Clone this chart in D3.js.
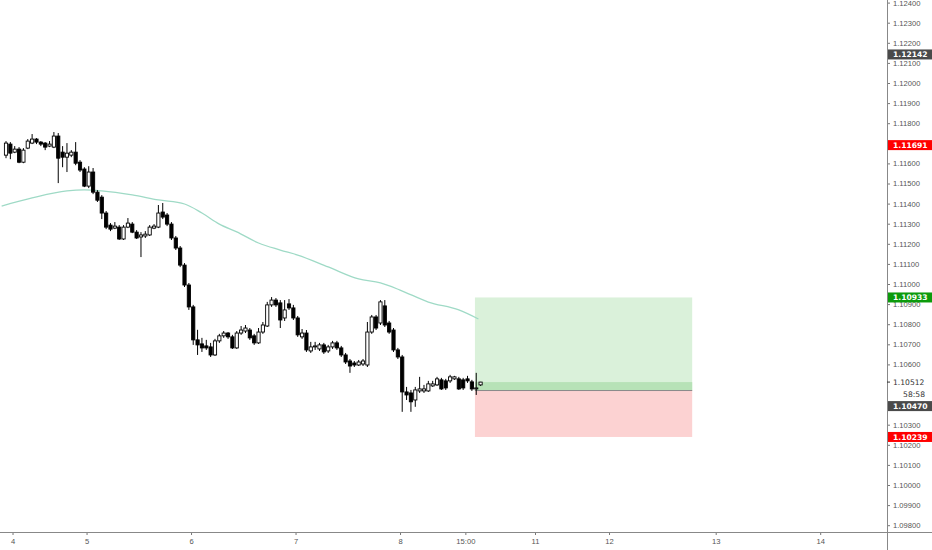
<!DOCTYPE html>
<html>
<head>
<meta charset="utf-8">
<script src="https://cdn.jsdelivr.net/npm/d3@7"></script>
<style>
  body { margin: 0; background: #fff; }
  svg { display: block; font-family: "DejaVu Sans", sans-serif; }
</style>
</head>
<body>
<div id="chart"></div>
<script>
// hourly EURUSD candles
const opens = [1.11641,1.11696,1.11656,1.11671,1.11606,1.11676,1.11701,1.11721,1.11706,1.11701,
  1.11686,1.11681,1.11736,1.11656,1.11631,1.11641,1.11656,1.11606,1.11572,1.11487,
  1.11557,1.11457,1.11432,1.11353,1.11293,1.11278,1.11283,1.11224,1.11283,1.11298,
  1.11258,1.11234,1.11239,1.11244,1.11278,1.11283,1.11358,1.11343,1.11298,1.11229,
  1.11179,1.11094,1.10995,1.10886,1.10722,1.10702,1.10692,1.10687,1.10647,1.10717,
  1.10742,1.10756,1.10737,1.10682,1.10756,1.10766,1.10771,1.10742,1.10707,1.10761,
  1.10791,1.10896,1.10920,1.10906,1.10831,1.10901,1.10881,1.10831,1.10737,1.10756,
  1.10667,1.10687,1.10677,1.10697,1.10667,1.10687,1.10707,1.10682,1.10647,1.10617,
  1.10607,1.10597,1.10602,1.10597,1.10761,1.10836,1.10806,1.10891,1.10806,1.10771,
  1.10672,1.10637,1.10463,1.10458,1.10423,1.10468,1.10468,1.10468,1.10493,1.10498,
  1.10523,1.10518,1.10518,1.10528,1.10528,1.10523,1.10528,1.10513,1.10478,1.10498];
const highs = [1.11711,1.11706,1.11686,1.11681,1.11676,1.11721,1.11746,1.11726,1.11711,1.11706,
  1.11711,1.11756,1.11751,1.11686,1.11701,1.11666,1.11706,1.11616,1.11581,1.11586,
  1.11577,1.11467,1.11442,1.11363,1.11303,1.11308,1.11293,1.11293,1.11328,1.11308,
  1.11268,1.11258,1.11263,1.11293,1.11298,1.11393,1.11403,1.11353,1.11308,1.11239,
  1.11189,1.11104,1.11005,1.10896,1.10772,1.10732,1.10722,1.10707,1.10727,1.10752,
  1.10766,1.10761,1.10747,1.10766,1.10791,1.10796,1.10781,1.10752,1.10781,1.10811,
  1.10911,1.10935,1.10930,1.10920,1.10920,1.10925,1.10896,1.10841,1.10776,1.10771,
  1.10712,1.10712,1.10707,1.10707,1.10697,1.10717,1.10717,1.10692,1.10657,1.10627,
  1.10617,1.10622,1.10627,1.10811,1.10846,1.10846,1.10920,1.10920,1.10816,1.10781,
  1.10682,1.10647,1.10488,1.10473,1.10488,1.10538,1.10498,1.10518,1.10518,1.10538,
  1.10533,1.10528,1.10548,1.10543,1.10538,1.10533,1.10543,1.10523,1.10558,1.10513];
const lows = [1.11626,1.11621,1.11651,1.11601,1.11601,1.11671,1.11696,1.11696,1.11686,1.11666,
  1.11681,1.11676,1.11502,1.11581,1.11557,1.11631,1.11591,1.11557,1.11482,1.11477,
  1.11447,1.11408,1.11323,1.11273,1.11263,1.11273,1.11219,1.11219,1.11278,1.11253,
  1.11224,1.11134,1.11229,1.11239,1.11273,1.11278,1.11323,1.11288,1.11219,1.11169,
  1.11084,1.10985,1.10871,1.10697,1.10647,1.10662,1.10672,1.10637,1.10642,1.10707,
  1.10732,1.10727,1.10677,1.10677,1.10747,1.10756,1.10722,1.10697,1.10702,1.10752,
  1.10786,1.10886,1.10886,1.10781,1.10816,1.10871,1.10821,1.10737,1.10727,1.10662,
  1.10657,1.10672,1.10667,1.10652,1.10657,1.10677,1.10672,1.10637,1.10602,1.10558,
  1.10587,1.10592,1.10592,1.10587,1.10752,1.10771,1.10796,1.10786,1.10752,1.10662,
  1.10627,1.10364,1.10423,1.10364,1.10389,1.10458,1.10458,1.10463,1.10488,1.10493,
  1.10473,1.10473,1.10508,1.10523,1.10473,1.10473,1.10508,1.10468,1.10448,1.10493];
const closes = [1.11701,1.11651,1.11671,1.11606,1.11666,1.11711,1.11721,1.11706,1.11696,1.11681,
  1.11696,1.11736,1.11626,1.11631,1.11651,1.11656,1.11601,1.11567,1.11487,1.11557,
  1.11457,1.11417,1.11353,1.11283,1.11273,1.11288,1.11224,1.11283,1.11303,1.11258,
  1.11229,1.11244,1.11248,1.11283,1.11288,1.11353,1.11333,1.11298,1.11229,1.11179,
  1.11094,1.10995,1.10886,1.10722,1.10697,1.10682,1.10682,1.10647,1.10717,1.10742,
  1.10756,1.10737,1.10682,1.10756,1.10771,1.10781,1.10732,1.10707,1.10761,1.10796,
  1.10896,1.10920,1.10896,1.10821,1.10871,1.10881,1.10831,1.10747,1.10756,1.10672,
  1.10687,1.10692,1.10697,1.10662,1.10687,1.10707,1.10682,1.10647,1.10612,1.10592,
  1.10597,1.10612,1.10617,1.10761,1.10836,1.10781,1.10911,1.10796,1.10761,1.10672,
  1.10637,1.10463,1.10448,1.10414,1.10473,1.10478,1.10478,1.10503,1.10503,1.10528,
  1.10478,1.10483,1.10538,1.10538,1.10478,1.10483,1.10518,1.10478,1.10483,1.10512];

// moving average, sampled at bar positions
const maIdx = [-1, 6, 14, 18, 22, 29, 35, 41, 45, 49, 53, 58, 63, 67, 74, 81, 86, 90.5, 97, 104, 108.5];
const maVal = [1.11388,1.11428,1.11463,1.11468,1.11463,1.11443,1.11418,1.11398,1.11353,1.11298,
  1.11259,1.11204,1.11169,1.11144,1.11085,1.11025,1.11005,1.10970,1.10910,1.10871,1.10826];

const timeTickIdx = [1.5, 18.5, 42.5, 66.5, 90.5, 105.5, 121.5, 138.5, 163, 187];
const timeTickLabels = ["4", "5", "6", "7", "8", "15:00", "11", "12", "13", "14"];

const priceTicks = [1.098,1.099,1.100,1.101,1.102,1.103,1.106,1.107,1.108,1.109,1.110,
  1.111,1.112,1.113,1.114,1.115,1.116,1.118,1.119,1.120,1.121,1.122,1.123,1.124];

// long position tool
const targetPrice = 1.10933, entryPrice = 1.10470, stopPrice = 1.10239;
const posFrom = 107.7, posTo = 157.6;

const lastPrice = 1.10512, countdown = "58:58";
const priceMarks = [
  { v: 1.12142, color: "#4a4a4a" },
  { v: 1.11691, color: "#ff0000" },
  { v: 1.10933, color: "#0c9b0c" },
  { v: 1.10470, color: "#4a4a4a" },
  { v: 1.10239, color: "#ff0000" }
];

const width = 932, height = 550;
const axisX = 887, axisY = 532;

const svg = d3.select("#chart").append("svg")
  .attr("width", width).attr("height", height);

const x = d3.scaleLinear().domain([0, 200]).range([6, 6 + 200 * 4.354]);
const y = d3.scaleLinear().domain([1.098, 1.124]).range([525.2, 2.6]);

const plot = svg.append("g");

// position box
const boxX = x(posFrom), boxW = x(posTo) - x(posFrom);
plot.append("rect").attr("x", boxX).attr("width", boxW)
  .attr("y", y(targetPrice)).attr("height", y(entryPrice) - y(targetPrice))
  .attr("fill", "#daf1da");
plot.append("rect").attr("x", boxX).attr("width", boxW)
  .attr("y", y(lastPrice)).attr("height", y(entryPrice) - y(lastPrice))
  .attr("fill", "#b7e2b7");
plot.append("rect").attr("x", boxX).attr("width", boxW)
  .attr("y", y(entryPrice)).attr("height", y(stopPrice) - y(entryPrice))
  .attr("fill", "#fcd2d2");
plot.append("line")
  .attr("x1", boxX).attr("x2", boxX + boxW)
  .attr("y1", y(entryPrice)).attr("y2", y(entryPrice))
  .attr("stroke", "#8a8a8a").attr("stroke-width", 1);

// moving average
const maLine = d3.line()
  .x((d, i) => x(maIdx[i]))
  .y(d => y(d))
  .curve(d3.curveMonotoneX);
plot.append("path").datum(maVal)
  .attr("d", maLine)
  .attr("fill", "none")
  .attr("stroke", "#9fdac6")
  .attr("stroke-width", 1.3);

// candles
const bars = opens.map((o, i) => ({ i, o, h: highs[i], l: lows[i], c: closes[i] }));
const bw = 3.2;

plot.selectAll(".wick").data(bars).enter().append("line")
  .attr("class", "wick")
  .attr("x1", d => x(d.i)).attr("x2", d => x(d.i))
  .attr("y1", d => y(d.h)).attr("y2", d => y(d.l))
  .attr("stroke", "#000").attr("stroke-width", 1);

plot.selectAll(".body").data(bars).enter().append("rect")
  .attr("class", "body")
  .attr("x", d => x(d.i) - bw / 2)
  .attr("width", bw)
  .attr("y", d => y(Math.max(d.o, d.c)))
  .attr("height", d => Math.max(1, Math.abs(y(d.o) - y(d.c))))
  .attr("fill", d => (d.c >= d.o ? "#fff" : "#000"))
  .attr("stroke", "#000").attr("stroke-width", 0.9);

// price scale
const yAxis = d3.axisRight(y).tickValues(priceTicks)
  .tickFormat(d3.format(".5f")).tickSize(3).tickPadding(3);
const gy = svg.append("g").attr("transform", `translate(${axisX},0)`).call(yAxis);
gy.select(".domain").remove();
gy.selectAll(".tick line").attr("stroke", "#777");
gy.selectAll(".tick text").attr("fill", "#555").style("font-size", "7.6px");

// time scale
const xAxis = d3.axisBottom(x).tickValues(timeTickIdx)
  .tickFormat((d, i) => timeTickLabels[i]).tickSize(3).tickPadding(4);
const gx = svg.append("g").attr("transform", `translate(0,${axisY})`).call(xAxis);
gx.select(".domain").remove();
gx.selectAll(".tick line").attr("stroke", "#777");
gx.selectAll(".tick text").attr("fill", "#555").style("font-size", "7.6px");

svg.append("line").attr("x1", 0).attr("x2", width)
  .attr("y1", axisY + 0.5).attr("y2", axisY + 0.5).attr("stroke", "#888");
svg.append("line").attr("x1", axisX + 0.5).attr("x2", axisX + 0.5)
  .attr("y1", 0).attr("y2", height).attr("stroke", "#888");

// price labels on the scale, pushed down when they collide
const items = priceMarks.map(m => ({ v: m.v, color: m.color, top: y(m.v) - 5, h: 10 }));
items.push({ v: lastPrice, last: true, top: y(lastPrice) - 6, h: 24 });
items.sort((a, b) => a.top - b.top);
let prevBottom = -Infinity;
items.forEach(it => {
  if (it.top < prevBottom + 1) it.top = prevBottom + 1;
  prevBottom = it.top + it.h;
});

const fmt = d3.format(".5f");
items.forEach(it => {
  if (it.last) {
    const cy = it.top + 6;
    svg.append("rect").attr("x", axisX + 1).attr("y", it.top).attr("width", width - axisX)
      .attr("height", it.h).attr("fill", "#fff");
    svg.append("line").attr("x1", axisX).attr("x2", axisX + 3)
      .attr("y1", cy).attr("y2", cy).attr("stroke", "#333");
    svg.append("text").attr("x", axisX + 6).attr("y", cy).attr("dy", "0.35em")
      .attr("fill", "#333").style("font-size", "7.6px").text(fmt(it.v));
    svg.append("text").attr("x", axisX + 38).attr("y", cy + 12).attr("dy", "0.35em")
      .attr("text-anchor", "end")
      .attr("fill", "#333").style("font-size", "7.6px").text(countdown);
  } else {
    svg.append("rect").attr("x", axisX + 1).attr("y", it.top)
      .attr("width", width - axisX).attr("height", it.h).attr("fill", it.color);
    svg.append("text").attr("x", axisX + 6).attr("y", it.top + it.h / 2).attr("dy", "0.35em")
      .attr("fill", "#fff").style("font-size", "7.6px").style("font-weight", "bold")
      .text(fmt(it.v));
  }
});
</script>
</body>
</html>
